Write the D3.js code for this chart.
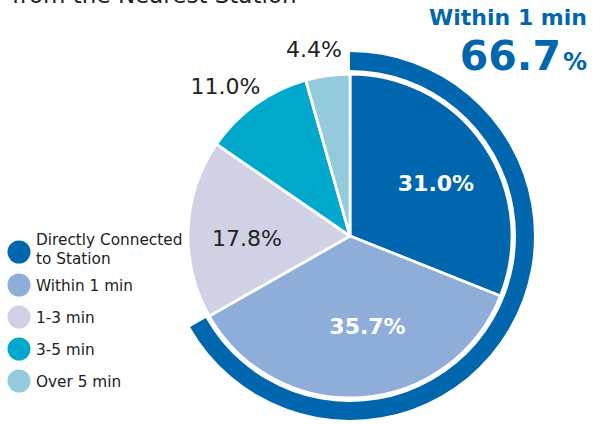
<!DOCTYPE html>
<html>
<head>
<meta charset="utf-8">
<script src="https://cdn.jsdelivr.net/npm/d3@7"></script>
<style>
  html, body { margin: 0; padding: 0; background: #fff; }
  svg { display: block; font-family: "DejaVu Sans", Verdana, sans-serif; }
</style>
</head>
<body>
<svg id="chart" width="593" height="424"></svg>
<script>
// Share of properties by walking time from the nearest station
const categories = ["Directly Connected to Station", "Within 1 min", "1-3 min", "3-5 min", "Over 5 min"];
const legendLines = [["Directly Connected", "to Station"], ["Within 1 min"], ["1-3 min"], ["3-5 min"], ["Over 5 min"]];
const shares = [31.0, 35.7, 17.8, 11.0, 4.4];
const colors = ["#0066ae", "#8eadd8", "#d1d1e6", "#00a9cb", "#93cbdc"];
const highlightShare = 66.7;   // directly connected + within 1 min
const highlightLabel = "Within 1 min";

const svg = d3.select("#chart");
const cx = 350, cy = 236, r = 162;

// Title (second line of the heading)
svg.append("text")
  .attr("x", 12).attr("y", 3)
  .attr("font-size", 23).attr("fill", "#222")
  .text("from the Nearest Station");

const g = svg.append("g").attr("transform", `translate(${cx},${cy})`);

const pie = d3.pie().sort(null).value(d => d);
const arcs = pie(shares);
const arc = d3.arc().innerRadius(0).outerRadius(r);

g.selectAll("path.slice")
  .data(arcs)
  .join("path")
  .attr("class", "slice")
  .attr("d", arc)
  .attr("fill", (d, i) => colors[i])
  .attr("stroke", "#fff")
  .attr("stroke-width", 2.8)
  .attr("stroke-linejoin", "round");

// Outer band spanning the highlighted share
const total = d3.sum(shares);
const bandAngle = d3.scaleLinear().domain([0, total]).range([0, 2 * Math.PI]);
const band = d3.arc().innerRadius(166).outerRadius(184);
g.append("path")
  .attr("d", band({ startAngle: 0, endAngle: bandAngle(highlightShare) }))
  .attr("fill", colors[0]);

// Slice labels: inside for the large slices, outside for the small ones
const labelRadius = [101, 92, 103, 195, 190];
const labelTurn = [2.5, -7, -3.5, -4, -3].map(a => a * Math.PI / 180);
const labelInside = [true, true, false, false, false];
const labelXY = (d, i) => {
  const a = (d.startAngle + d.endAngle) / 2 + labelTurn[i];
  return [Math.sin(a) * labelRadius[i], -Math.cos(a) * labelRadius[i]];
};
const fmt = d3.format(".1f");
g.selectAll("text.val")
  .data(arcs)
  .join("text")
  .attr("class", "val")
  .attr("x", (d, i) => labelXY(d, i)[0])
  .attr("y", (d, i) => labelXY(d, i)[1])
  .attr("dy", "0.36em")
  .attr("text-anchor", "middle")
  .attr("font-size", 22)
  .attr("font-weight", (d, i) => labelInside[i] ? "bold" : "normal")
  .attr("fill", (d, i) => labelInside[i] ? "#fff" : "#222")
  .text(d => fmt(d.data) + "%");

// Highlight callout
svg.append("text")
  .attr("x", 587).attr("y", 25)
  .attr("text-anchor", "end")
  .attr("font-size", 22).attr("font-weight", "bold")
  .attr("fill", colors[0])
  .text(highlightLabel);
const big = svg.append("text")
  .attr("x", 587).attr("y", 70)
  .attr("text-anchor", "end")
  .attr("font-weight", "bold")
  .attr("fill", colors[0]);
big.append("tspan").attr("font-size", 41).text(fmt(highlightShare));
big.append("tspan").attr("font-size", 24).attr("dx", 2).text("%");

// Legend
const legendY = [252, 285, 317, 349, 381];
const legend = svg.append("g");
const items = legend.selectAll("g")
  .data(categories)
  .join("g")
  .attr("transform", (d, i) => `translate(19,${legendY[i]})`);
items.append("circle").attr("r", 11.5).attr("fill", (d, i) => colors[i]);
items.each(function(d, i) {
  const lines = legendLines[i];
  const t = d3.select(this).append("text")
    .attr("x", 17)
    .attr("font-size", 15.3)
    .attr("fill", "#222");
  lines.forEach((ln, j) => {
    t.append("tspan")
      .attr("x", 17)
      .attr("y", lines.length === 1 ? 5.5 : -7 + j * 19)
      .text(ln);
  });
});
</script>
</body>
</html>
